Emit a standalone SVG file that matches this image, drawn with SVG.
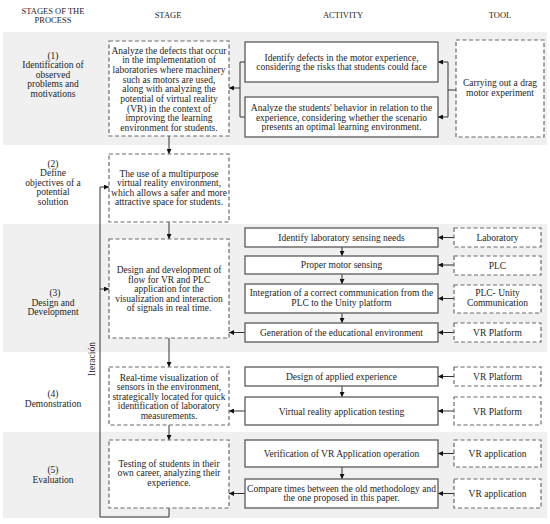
<svg xmlns="http://www.w3.org/2000/svg" width="550" height="524" viewBox="0 0 550 524">
<style>
text{font-family:"Liberation Serif","Times New Roman",serif;font-size:9.5px;fill:#1e1e1e;text-anchor:middle}
.h{font-size:8.5px}
.band{fill:#f0f0f0}
.dash{fill:#fff;stroke:#6a6a6a;stroke-width:1.2;stroke-dasharray:4 2.5}
.act{fill:#fff;stroke:#5a5a5a;stroke-width:1.3}
.c{fill:none;stroke:#333;stroke-width:1}
</style>
<defs>
<marker id="ah" viewBox="0 0 6 6" refX="6" refY="3" markerWidth="6" markerHeight="5" markerUnits="userSpaceOnUse" orient="auto">
<path d="M0,0 L6,3 L0,6 z" fill="#111"/>
</marker>
</defs>
<rect width="550" height="524" fill="#fff"/>
<g id="bands">
<rect class="band" x="3" y="32" width="544" height="113"/>
<rect class="band" x="3" y="224" width="544" height="128"/>
<rect class="band" x="3" y="432" width="544" height="86"/>
</g>
<g id="headers">
<text class="h" x="53" y="13.5">STAGES OF THE</text>
<text class="h" x="53" y="22.5">PROCESS</text>
<text class="h" x="168" y="18">STAGE</text>
<text class="h" x="343" y="18">ACTIVITY</text>
<text class="h" x="500" y="18">TOOL</text>
</g>
<g id="stage-labels">
<text x="53" y="58.5">(1)</text>
<text x="53" y="68">Identification of</text>
<text x="53" y="77.5">observed</text>
<text x="53" y="87">problems and</text>
<text x="53" y="96.5">motivations</text>
<text x="53" y="166.5">(2)</text>
<text x="53" y="176">Define</text>
<text x="53" y="185.5">objectives of a</text>
<text x="53" y="195">potential</text>
<text x="53" y="204.5">solution</text>
<text x="55" y="296">(3)</text>
<text x="53" y="305.5">Design and</text>
<text x="53" y="315">Development</text>
<text x="53" y="397">(4)</text>
<text x="53" y="406.5">Demonstration</text>
<text x="53" y="473">(5)</text>
<text x="53" y="482.5">Evaluation</text>
</g>
<g id="connectors">
<line class="c" x1="169" y1="136" x2="169" y2="154" marker-end="url(#ah)"/>
<line class="c" x1="169" y1="222" x2="169" y2="239" marker-end="url(#ah)"/>
<line class="c" x1="169" y1="338" x2="169" y2="367" marker-end="url(#ah)"/>
<line class="c" x1="169" y1="425" x2="169" y2="440" marker-end="url(#ah)"/>
<polyline class="c" points="169,508 169,517 100,517 100,187 109,187" marker-end="url(#ah)"/>
<line class="c" x1="100" y1="289" x2="109" y2="289" marker-end="url(#ah)"/>
<polyline class="c" points="245,62 240,62 240,117 245,117"/>
<line class="c" x1="240" y1="88" x2="229" y2="88" marker-end="url(#ah)"/>
<line class="c" x1="456" y1="90" x2="448" y2="90"/>
<line class="c" x1="448" y1="62" x2="448" y2="117"/>
<line class="c" x1="448" y1="62" x2="438" y2="62" marker-end="url(#ah)"/>
<line class="c" x1="448" y1="117" x2="438" y2="117" marker-end="url(#ah)"/>
<line class="c" x1="342" y1="247" x2="342" y2="256" marker-end="url(#ah)"/>
<line class="c" x1="342" y1="274" x2="342" y2="284" marker-end="url(#ah)"/>
<line class="c" x1="342" y1="313" x2="342" y2="323" marker-end="url(#ah)"/>
<line class="c" x1="342" y1="386" x2="342" y2="397" marker-end="url(#ah)"/>
<line class="c" x1="342" y1="467" x2="342" y2="479" marker-end="url(#ah)"/>
<line class="c" x1="454" y1="237.5" x2="438" y2="237.5" marker-end="url(#ah)"/>
<line class="c" x1="454" y1="265" x2="438" y2="265" marker-end="url(#ah)"/>
<line class="c" x1="454" y1="298.5" x2="438" y2="298.5" marker-end="url(#ah)"/>
<line class="c" x1="454" y1="332.5" x2="438" y2="332.5" marker-end="url(#ah)"/>
<line class="c" x1="454" y1="376.5" x2="438" y2="376.5" marker-end="url(#ah)"/>
<line class="c" x1="454" y1="411" x2="438" y2="411" marker-end="url(#ah)"/>
<line class="c" x1="454" y1="453.5" x2="438" y2="453.5" marker-end="url(#ah)"/>
<line class="c" x1="454" y1="493.5" x2="438" y2="493.5" marker-end="url(#ah)"/>
<line class="c" x1="245" y1="332.5" x2="229" y2="332.5" marker-end="url(#ah)"/>
<line class="c" x1="245" y1="411" x2="229" y2="411" marker-end="url(#ah)"/>
<line class="c" x1="245" y1="493.5" x2="229" y2="493.5" marker-end="url(#ah)"/>
<text x="0" y="0" font-size="8" transform="translate(95,359) rotate(-90)">Iteración</text>
</g>
<g id="stage1">
<rect class="dash" x="109" y="41" width="120" height="95"/>
<text x="169" y="53.5">Analyze the defects that occur</text>
<text x="169" y="63.2">in the implementation of</text>
<text x="169" y="72.9">laboratories where machinery</text>
<text x="169" y="82.6">such as motors are used,</text>
<text x="169" y="92.3">along with analyzing the</text>
<text x="169" y="102">potential of virtual reality</text>
<text x="169" y="111.7">(VR) in the context of</text>
<text x="169" y="121.4">improving the learning</text>
<text x="169" y="131.1">environment for students.</text>
</g>
<g id="stage2">
<rect class="dash" x="109" y="154" width="120" height="68"/>
<text x="169" y="176.5">The use of a multipurpose</text>
<text x="169" y="186">virtual reality environment,</text>
<text x="169" y="195.5">which allows a safer and more</text>
<text x="169" y="205">attractive space for students.</text>
</g>
<g id="stage3">
<rect class="dash" x="109" y="239" width="120" height="99"/>
<text x="169" y="273">Design and development of</text>
<text x="169" y="282.5">flow for VR and PLC</text>
<text x="169" y="292">application for the</text>
<text x="169" y="301.5">visualization and interaction</text>
<text x="169" y="311">of signals in real time.</text>
</g>
<g id="stage4">
<rect class="dash" x="109" y="367" width="120" height="58"/>
<text x="169" y="380.5">Real-time visualization of</text>
<text x="169" y="390">sensors in the environment,</text>
<text x="169" y="399.5">strategically located for quick</text>
<text x="169" y="409">identification of laboratory</text>
<text x="169" y="418.5">measurements.</text>
</g>
<g id="stage5">
<rect class="dash" x="109" y="440" width="120" height="68"/>
<text x="169" y="466.5">Testing of students in their</text>
<text x="169" y="476">own career, analyzing their</text>
<text x="169" y="485.5">experience.</text>
</g>
<g id="act1a">
<rect class="act" x="245" y="42" width="193" height="40"/>
<text x="341.5" y="60.5">Identify defects in the motor experience,</text>
<text x="341.5" y="70">considering the risks that students could face</text>
</g>
<g id="act1b">
<rect class="act" x="245" y="97" width="193" height="40"/>
<text x="341.5" y="111">Analyze the students' behavior in relation to the</text>
<text x="341.5" y="120.5">experience, considering whether the scenario</text>
<text x="341.5" y="130">presents an optimal learning environment.</text>
</g>
<g id="tool1">
<rect class="dash" x="456" y="40" width="88" height="97"/>
<text x="500" y="86">Carrying out a drag</text>
<text x="500" y="95.5">motor experiment</text>
</g>
<g id="act3a">
<rect class="act" x="245" y="228" width="193" height="19"/>
<text x="341.5" y="240.5">Identify laboratory sensing needs</text>
</g>
<g id="act3b">
<rect class="act" x="245" y="256" width="193" height="18"/>
<text x="341.5" y="268">Proper motor sensing</text>
</g>
<g id="act3c">
<rect class="act" x="245" y="284" width="193" height="29"/>
<text x="341.5" y="296">Integration of a correct communication from the</text>
<text x="341.5" y="305.5">PLC to the Unity platform</text>
</g>
<g id="act3d">
<rect class="act" x="245" y="323" width="193" height="19"/>
<text x="341.5" y="335.5">Generation of the educational environment</text>
</g>
<g id="tool3a">
<rect class="dash" x="454" y="228" width="87" height="19"/>
<text x="497.5" y="240.5">Laboratory</text>
</g>
<g id="tool3b">
<rect class="dash" x="454" y="256" width="87" height="19"/>
<text x="497.5" y="268.5">PLC</text>
</g>
<g id="tool3c">
<rect class="dash" x="454" y="285" width="87" height="28"/>
<text x="497.5" y="296">PLC- Unity</text>
<text x="497.5" y="305.5">Communication</text>
</g>
<g id="tool3d">
<rect class="dash" x="454" y="323" width="87" height="19"/>
<text x="497.5" y="335.5">VR Platform</text>
</g>
<g id="act4a">
<rect class="act" x="245" y="367" width="193" height="19"/>
<text x="341.5" y="379.5">Design of applied experience</text>
</g>
<g id="act4b">
<rect class="act" x="245" y="397" width="193" height="28"/>
<text x="341.5" y="414.5">Virtual reality application testing</text>
</g>
<g id="tool4a">
<rect class="dash" x="454" y="367" width="87" height="19"/>
<text x="497.5" y="379.5">VR Platform</text>
</g>
<g id="tool4b">
<rect class="dash" x="454" y="397" width="87" height="28"/>
<text x="497.5" y="414.5">VR Platform</text>
</g>
<g id="act5a">
<rect class="act" x="245" y="440" width="193" height="27"/>
<text x="341.5" y="456.5">Verification of VR Application operation</text>
</g>
<g id="act5b">
<rect class="act" x="245" y="479" width="193" height="29"/>
<text x="341.5" y="491.5">Compare times between the old methodology and</text>
<text x="341.5" y="501">the one proposed in this paper.</text>
</g>
<g id="tool5a">
<rect class="dash" x="454" y="440" width="87" height="27"/>
<text x="497.5" y="456.5">VR application</text>
</g>
<g id="tool5b">
<rect class="dash" x="454" y="479" width="87" height="29"/>
<text x="497.5" y="497">VR application</text>
</g>
</svg>
